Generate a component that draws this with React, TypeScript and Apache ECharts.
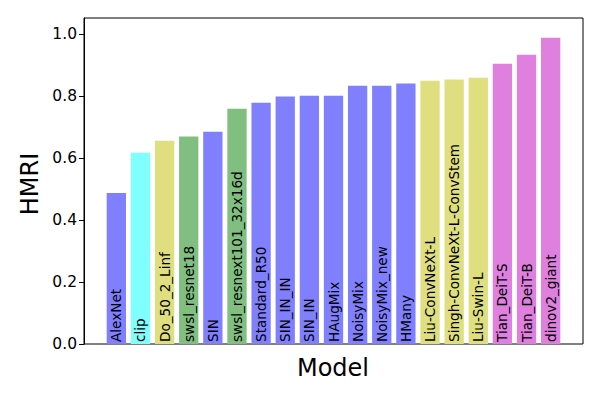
import React, { useEffect, useRef } from "react";
import * as echarts from "echarts";

const models = [
  "AlexNet", "clip", "Do_50_2_Linf", "swsl_resnet18", "SIN", "swsl_resnext101_32x16d",
  "Standard_R50", "SIN_IN_IN", "SIN_IN", "HAugMix", "NoisyMix", "NoisyMix_new", "HMany",
  "Liu-ConvNeXt-L", "Singh-ConvNeXt-L-ConvStem", "Liu-Swin-L", "Tian_DeiT-S", "Tian_DeiT-B", "dinov2_giant",
];
const hmri = [
  0.487, 0.617, 0.656, 0.669, 0.685, 0.759, 0.778, 0.798, 0.801, 0.801, 0.833, 0.833, 0.840,
  0.849, 0.853, 0.859, 0.904, 0.933, 0.988,
];
const groups = ["b", "c", "y", "g", "b", "g", "b", "b", "b", "b", "b", "b", "b", "y", "y", "y", "m", "m", "m"];
const groupColors: Record<string, string> = {
  b: "#8080ff",
  c: "#80ffff",
  y: "#dfdf80",
  g: "#80bf80",
  m: "#df80df",
};
const yTicks = [0, 0.2, 0.4, 0.6, 0.8, 1.0];

export default function App() {
  const ref = useRef<HTMLDivElement>(null);
  useEffect(() => {
    if (!ref.current) return;
    const chart = echarts.init(ref.current, null, { renderer: "svg" });
    const font = "DejaVu Sans";
    chart.setOption({
      animation: false,
      backgroundColor: "#fff",
      textStyle: { fontFamily: font },
      grid: {
        left: 84, right: 17, top: 18, bottom: 56,
        show: true, borderColor: "#000", borderWidth: 1, backgroundColor: "transparent",
      },
      xAxis: {
        type: "value",
        min: -1.34,
        max: 19.34,
        axisLine: { show: false },
        axisTick: { show: false },
        axisLabel: { show: false },
        splitLine: { show: false },
      },
      yAxis: {
        type: "value",
        min: 0,
        max: 1.0516,
        axisLine: { show: true, onZero: false, lineStyle: { color: "#000", width: 1 } },
        axisTick: { show: true, length: 5, lineStyle: { color: "#000" }, customValues: yTicks },
        axisLabel: {
          show: true, color: "#000", fontSize: 15.5, fontFamily: font, margin: 7,
          customValues: yTicks,
          formatter: (v: number) => v.toFixed(1),
        },
        splitLine: { show: false },
      },
      series: [
        {
          type: "bar",
          barWidth: 19.3,
          data: hmri.map((v, i) => ({
            value: [i, v],
            itemStyle: { color: groupColors[groups[i]] },
          })),
          label: {
            show: true,
            position: "insideBottom",
            rotate: 90,
            align: "left",
            verticalAlign: "middle",
            distance: 2,
            color: "#000",
            fontSize: 13.6,
            fontFamily: font,
            formatter: (p: any) => models[p.dataIndex],
          },
        },
      ],
      graphic: [
        {
          type: "text",
          x: 30, y: 184, rotation: Math.PI / 2,
          style: { text: "HMRI", font: `24px "${font}"`, fill: "#000", textAlign: "center", textVerticalAlign: "middle" },
        },
        {
          type: "text",
          x: 333, y: 368,
          style: { text: "Model", font: `24px "${font}"`, fill: "#000", textAlign: "center", textVerticalAlign: "middle" },
        },
      ],
    });
    return () => chart.dispose();
  }, []);
  return <div ref={ref} style={{ width: 600, height: 400, position: "absolute", left: 0, top: 0 }} />;
}
